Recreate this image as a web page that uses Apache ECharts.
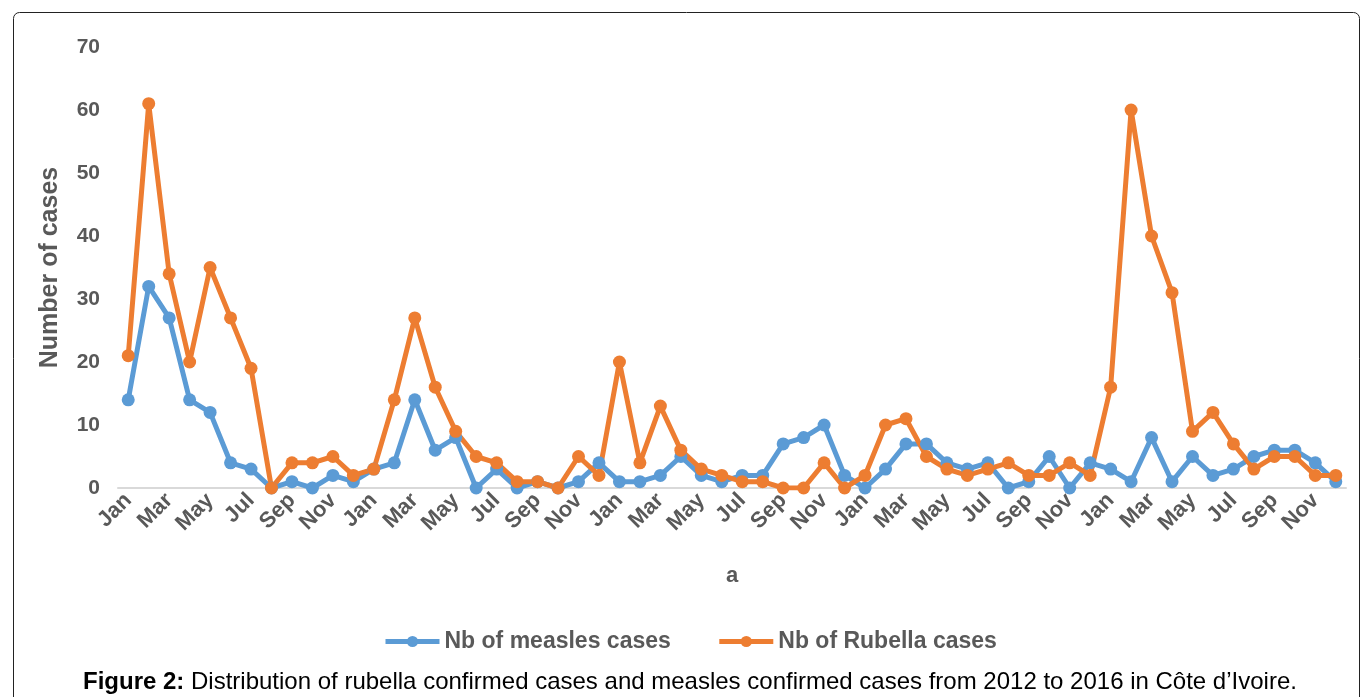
<!DOCTYPE html>
<html>
<head>
<meta charset="utf-8">
<script src="https://cdn.jsdelivr.net/npm/echarts@6/dist/echarts.min.js"></script>
<style>
html,body{margin:0;padding:0;background:#fff;}
#chart{width:1362px;height:697px;}
</style>
</head>
<body>
<div id="chart"></div>
<script>
const months = ['Jan','Feb','Mar','Apr','May','Jun','Jul','Aug','Sep','Oct','Nov','Dec'];
const years = [2012, 2013, 2014, 2015, 2016];
const measles = [
  14,32,27,14,12,4,3,0,1,0,2,1,
  3,4,14,6,8,0,3,0,1,0,1,4,
  1,1,2,5,2,1,2,2,7,8,10,2,
  0,3,7,7,4,3,4,0,1,5,0,4,
  3,1,8,1,5,2,3,5,6,6,4,1
];
const rubella = [
  21,61,34,20,35,27,19,0,4,4,5,2,
  3,14,27,16,9,5,4,1,1,0,5,2,
  20,4,13,6,3,2,1,1,0,0,4,0,
  2,10,11,5,3,2,3,4,2,2,4,2,
  16,60,40,31,9,12,7,3,5,5,2,2
];
const categories = [];
years.forEach(function(){ months.forEach(function(m){ categories.push(m); }); });

const gray = '#595959';
const font = 'Liberation Sans, Arial, sans-serif';
const chart = echarts.init(document.getElementById('chart'));
chart.setOption({
  animation: false,
  backgroundColor: '#fff',
  title: {
    text: '{b|Figure 2:} Distribution of rubella confirmed cases and measles confirmed cases from 2012 to 2016 in Côte d\u2019Ivoire.',
    left: 78,
    top: 665,
    textStyle: {
      fontFamily: font, fontSize: 24, fontWeight: 'normal', color: '#000',
      rich: { b: { fontFamily: font, fontSize: 24, fontWeight: 'bold', color: '#000' } }
    }
  },
  graphic: [{
    type: 'rect',
    shape: { x: 13.5, y: 12.5, width: 1346, height: 720, r: 6 },
    style: { fill: 'none', stroke: '#222', lineWidth: 1 },
    silent: true
  }],
  grid: { left: 118, right: 16, top: 47, bottom: 209, containLabel: false },
  legend: {
    top: 625,
    left: 378,
    itemWidth: 54,
    itemHeight: 14,
    itemGap: 46,
    lineStyle: { width: 5 },
    textStyle: { fontFamily: font, fontSize: 23, fontWeight: 'bold', color: gray },
    data: ['Nb of measles cases', 'Nb of Rubella cases']
  },
  xAxis: {
    type: 'category',
    data: categories,
    boundaryGap: true,
    name: 'a',
    nameLocation: 'middle',
    nameGap: 77,
    nameTextStyle: { fontFamily: font, fontSize: 22, fontWeight: 'bold', color: gray },
    axisLine: { lineStyle: { color: '#d9d9d9', width: 2 } },
    axisTick: { show: false },
    axisLabel: { interval: 1, rotate: 45, margin: 9, fontFamily: font, fontSize: 22, fontWeight: 'bold', color: gray },
    splitLine: { show: false }
  },
  yAxis: {
    type: 'value',
    min: 0, max: 70, interval: 10,
    name: 'Number of cases',
    nameLocation: 'middle',
    nameGap: 55,
    nameTextStyle: { fontFamily: font, fontSize: 25, fontWeight: 'bold', color: gray },
    axisLine: { show: false },
    axisTick: { show: false },
    axisLabel: { margin: 18, fontFamily: font, fontSize: 21, fontWeight: 'bold', color: gray },
    splitLine: { show: false }
  },
  series: [
    {
      name: 'Nb of measles cases', type: 'line', data: measles,
      symbol: 'circle', symbolSize: 13,
      itemStyle: { color: '#5B9BD5' },
      lineStyle: { color: '#5B9BD5', width: 5 }
    },
    {
      name: 'Nb of Rubella cases', type: 'line', data: rubella,
      symbol: 'circle', symbolSize: 13,
      itemStyle: { color: '#ED7D31' },
      lineStyle: { color: '#ED7D31', width: 5 }
    }
  ]
});
</script>
</body>
</html>
